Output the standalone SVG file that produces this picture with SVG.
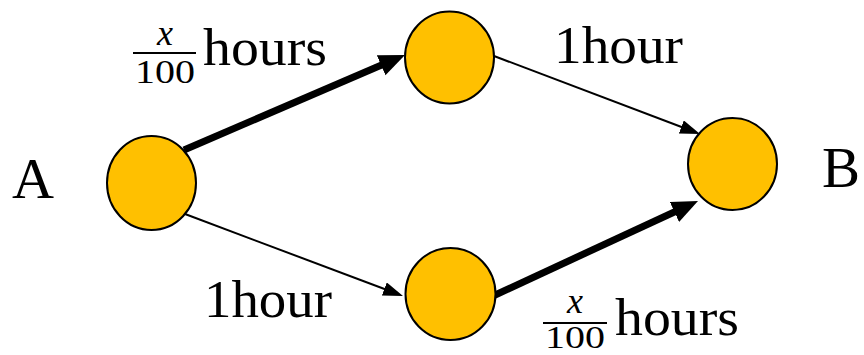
<svg xmlns="http://www.w3.org/2000/svg" width="864" height="355" viewBox="0 0 864 355">
<style>
.node{fill:#FFC000;stroke:#000;stroke-width:2}
.t{font-family:"Liberation Serif","Times New Roman",serif;fill:#000}
.lbl{font-size:52px}
.big{font-size:57px}
.num{font-size:34px}
.numb{font-size:31px}
.var{font-size:36px;font-style:italic}
.thick{stroke:#000;stroke-width:7;fill:none}
.thin{stroke:#000;stroke-width:2;fill:none}
</style>
<defs>
<marker id="ah" markerUnits="userSpaceOnUse" markerWidth="28" markerHeight="24" refX="10" refY="11" orient="auto">
<path d="M0,0 L26,11 L0,22 z" fill="#000"/>
</marker>
<marker id="as" markerUnits="userSpaceOnUse" markerWidth="22" markerHeight="16" refX="8" refY="7" orient="auto">
<path d="M0,0 L20,7 L0,14 z" fill="#000"/>
</marker>
</defs>
<g id="connectors">
<line class="thick" x1="184" y1="150" x2="390.3" y2="61.3" marker-end="url(#ah)"/>
<line class="thin" x1="494" y1="56" x2="688.8" y2="129.8" marker-end="url(#as)"/>
<line class="thin" x1="185" y1="214" x2="391.8" y2="291.8" marker-end="url(#as)"/>
<line class="thick" x1="493" y1="296" x2="683.5" y2="207.7" marker-end="url(#ah)"/>
</g>
<g id="nodeA"><ellipse class="node" cx="151.5" cy="183" rx="44.5" ry="47"/></g>
<g id="nodeTop"><ellipse class="node" cx="449.5" cy="57.5" rx="44.5" ry="46"/></g>
<g id="nodeBottom"><ellipse class="node" cx="450.5" cy="294" rx="45" ry="46"/></g>
<g id="nodeB"><ellipse class="node" cx="732.5" cy="164" rx="44.5" ry="46"/></g>
<g id="labelA"><text class="t big" x="12" y="198" textLength="42" lengthAdjust="spacingAndGlyphs">A</text></g>
<g id="labelB"><text class="t big" x="822" y="187" textLength="38" lengthAdjust="spacingAndGlyphs">B</text></g>
<g id="labelTopLeft">
<text class="t var" x="165" y="45" text-anchor="middle">x</text>
<line x1="133" y1="53" x2="196" y2="53" stroke="#000" stroke-width="2"/>
<text class="t num" x="135" y="83" textLength="60" lengthAdjust="spacingAndGlyphs">100</text>
<text class="t lbl" x="203" y="65" textLength="124" lengthAdjust="spacingAndGlyphs">hours</text>
</g>
<g id="labelTopRight"><text class="t lbl" x="554" y="63" textLength="129" lengthAdjust="spacingAndGlyphs">1hour</text></g>
<g id="labelBottomLeft"><text class="t lbl" x="204" y="317" textLength="128" lengthAdjust="spacingAndGlyphs">1hour</text></g>
<g id="labelBottomRight">
<text class="t var" x="575" y="313" text-anchor="middle">x</text>
<line x1="543" y1="323" x2="607" y2="323" stroke="#000" stroke-width="2"/>
<text class="t numb" x="545" y="348" textLength="60" lengthAdjust="spacingAndGlyphs">100</text>
<text class="t lbl" x="615" y="335" textLength="124" lengthAdjust="spacingAndGlyphs">hours</text>
</g>
</svg>
